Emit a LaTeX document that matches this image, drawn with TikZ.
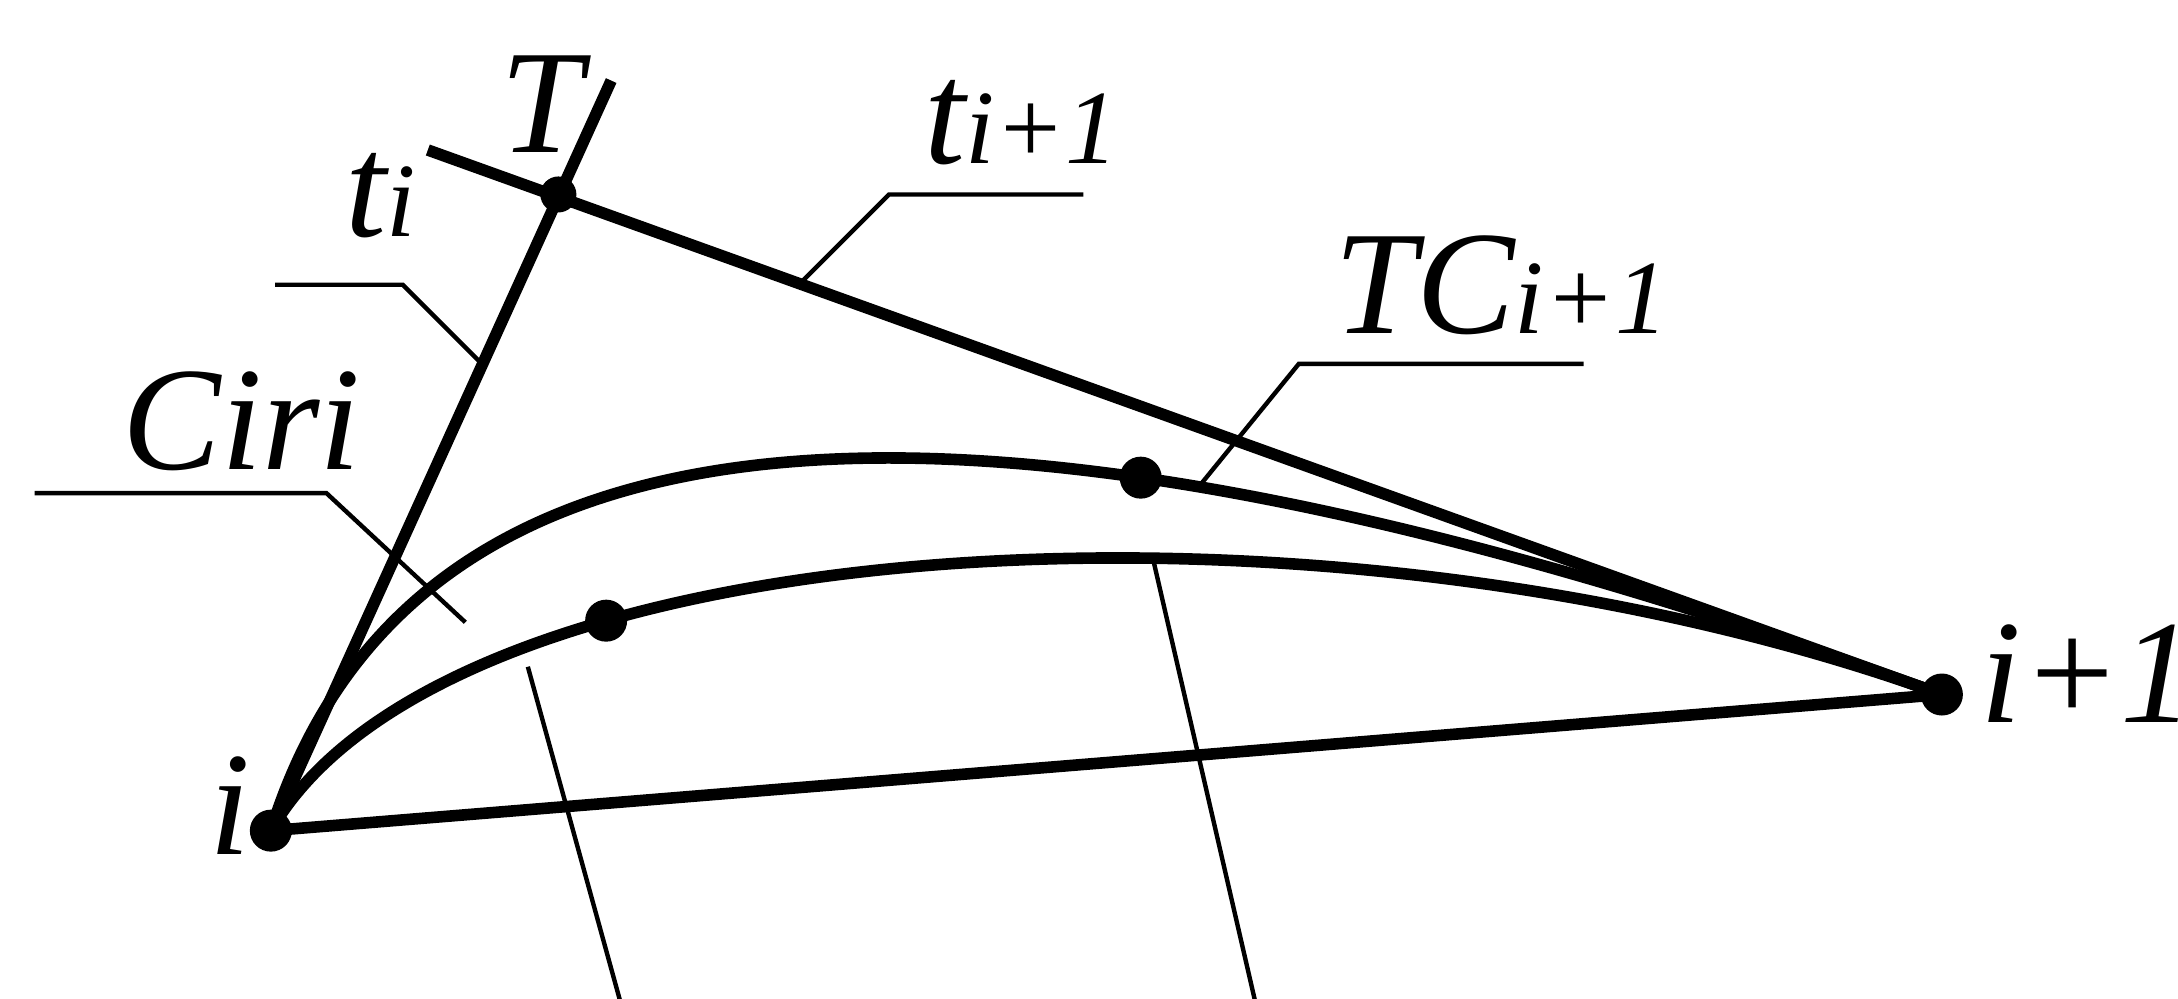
\documentclass[tikz,border=0pt]{standalone}
\usepackage{fontspec}
\setmainfont{Liberation Serif}
\newcommand{\lgtxt}{\fontsize{42}{44}\selectfont\itshape}
\newcommand{\smtxt}{\fontsize{30}{32}\selectfont\itshape}
\begin{document}
\begin{tikzpicture}[x=0.01389cm,y=-0.01389cm,
  heavy/.style={line width=3.3pt},
  leader/.style={line width=1.25pt},
  lbl/.style={inner sep=0pt,anchor=base west},
  dotn/.style={circle,fill=black,inner sep=0pt,minimum size=0.42cm}]
\useasboundingbox (0,0) rectangle (1568,719);
\coordinate (I) at (195,598);
\coordinate (J) at (1398,500);
\coordinate (T) at (402,140);
\coordinate (tiend) at (440,58);
\coordinate (tjend) at (308,108);
\draw[heavy] (I) -- (tiend);
\draw[heavy] (tjend) -- (J);
\draw[heavy] (I) -- (J);
\draw[heavy] (I) .. controls (310,230) and (800,284) .. (J) coordinate[pos=0.65] (up);
\draw[heavy] (I) .. controls (320,380) and (950,338) .. (J) coordinate[pos=0.31] (lo);
\node[dotn] (di) at (I) {};
\node[dotn] (dj) at (J) {};
\node[dotn,minimum size=0.36cm] (dT) at (T) {};
\node[dotn] (dup) at (up) {};
\node[dotn] (dlo) at (lo) {};
% labels
\node[lbl] (lT) at (360,110) {\lgtxt T};
\node[lbl] (lti) at (248,170) {\lgtxt t\smtxt i};
\node[lbl] (ltj) at (665,118) {\lgtxt t\smtxt i+1};
\node[lbl] (ltcj) at (960,240) {\lgtxt TC\smtxt i+1};
\node[lbl] (lciri) at (88,338) {\lgtxt Ciri};
\node[lbl] (li) at (150,615) {\lgtxt i};
\node[lbl] (lj) at (1425,520) {\lgtxt i+1};
\node[lbl] (ltci) at (548,965) {\lgtxt TC\smtxt i};
\node[lbl] (lcirj) at (975,965) {\lgtxt Ciri\smtxt +1};
% leaders
\coordinate (a1) at (198,205); \coordinate (a2) at (290,205); \coordinate (a3) at (347,262);
\draw[leader] (a1) -- (a2) -- (a3);
\coordinate (b1) at (780,140); \coordinate (b2) at (640,140); \coordinate (b3) at (575,205);
\draw[leader] (b1) -- (b2) -- (b3);
\coordinate (c1) at (1140,262); \coordinate (c2) at (935,262); \coordinate (c3) at (865,348);
\draw[leader] (c1) -- (c2) -- (c3);
\coordinate (d1) at (25,355); \coordinate (d2) at (235,355); \coordinate (d3) at (335,448);
\draw[leader] (d1) -- (d2) -- (d3);
\coordinate (e1) at (665,987); \coordinate (e2) at (520,987); \coordinate (e3) at (380,480);
\draw[leader] (e1) -- (e2) -- (e3);
\coordinate (f1) at (1110,987); \coordinate (f2) at (965,987); \coordinate (f3) at (830,402);
\draw[leader] (f1) -- (f2) -- (f3);
\end{tikzpicture}
\end{document}
